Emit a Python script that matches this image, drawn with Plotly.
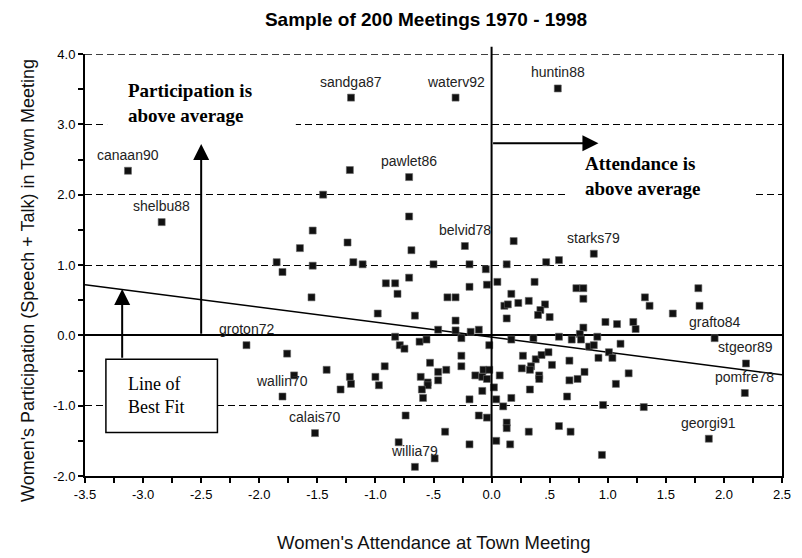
import plotly.graph_objects as go

ARIAL = "Arial, Liberation Sans, sans-serif"
TIMES = "Times New Roman, Liberation Serif, serif"

# towns that carry a name label on the chart
town_names = ["canaan90", "shelbu88", "sandga87", "waterv92", "huntin88", "pawlet86",
              "belvid78", "starks79", "groton72", "wallin70", "calais70", "willia79",
              "grafto84", "stgeor89", "pomfre78", "georgi91"]
town_attend = [-3.13, -2.84, -1.21, -0.31, 0.57, -0.71, -0.23, 0.88,
               -2.11, -1.80, -1.52, -0.66, 1.92, 2.19, 2.18, 1.87]
town_particip = [2.34, 1.61, 3.38, 3.38, 3.51, 2.25, 1.27, 1.16,
                 -0.14, -0.87, -1.39, -1.87, -0.04, -0.40, -0.82, -1.47]

# the rest of the meetings (no label)
attend = [
    -1.85, -1.80, -1.22, -1.45, -0.71, -1.54, -1.24, -1.65, -0.69, 0.19,
    -1.54, -1.19, -1.11, -0.50, -0.19, -0.05, 0.13, 0.47, 0.58, -0.71,
    -0.91, -0.83, -0.81, -1.55, -0.19, -0.04, -0.38, -0.31, -0.98, -0.66,
    -0.31, -0.46, -0.31, -0.11, -0.18, -0.83, -0.26,
    0.05, 0.37, 0.17, 0.23, 0.32, 0.11, 0.14, 0.46, 0.42, 0.40, 0.50, 0.13,
    0.73, 0.79, 0.79, 1.32, 1.36, 1.56, 1.78, 1.79, 0.79, 0.98, 1.08, 1.22, 1.24,
    0.58, 0.69, 0.76, 0.77, 0.91, 0.36, 0.17,
    -0.79, -0.75, -0.62, -0.56, -0.02, -1.76, -0.53, -0.26, -0.26, -0.46, -0.39, -1.42, -0.92, -1.70,
    -1.22, -1.21, -1.00, -0.97, -1.30, -0.61, -0.55, -0.55, -0.60, -0.59, -0.46, -0.14, -0.07, -0.02, -0.08, -0.04,
    0.07, 0.02, -0.08, -0.19, 0.04, 0.17, 0.10, 0.27, 0.38, 0.43, 0.49, 0.26, 0.34, 0.33, 0.41, 0.41, 0.52, 0.33,
    -0.74, -0.11, -0.04, -0.40, -0.19, -0.80, -0.49, 0.04, 0.16, 0.13, 0.13, 0.32,
    0.84, 0.88, 1.01, 1.11, 1.04, 0.92, 0.67, 0.67, 0.74, 0.80, 1.18, 1.07, 0.65, 0.96, 1.31, 0.58, 0.68, 0.95,
]
particip = [
    1.04, 0.90, 2.35, 2.00, 1.69, 1.49, 1.32, 1.24, 1.21, 1.34,
    0.99, 1.04, 1.01, 1.01, 1.01, 0.94, 1.01, 1.04, 1.07, 0.82,
    0.74, 0.74, 0.59, 0.54, 0.69, 0.72, 0.54, 0.54, 0.31, 0.28,
    0.21, 0.08, 0.07, 0.08, 0.05, -0.02, -0.04,
    0.76, 0.76, 0.59, 0.46, 0.49, 0.42, 0.44, 0.44, 0.36, 0.29, 0.26, 0.24,
    0.67, 0.67, 0.52, 0.54, 0.42, 0.31, 0.67, 0.42, 0.11, 0.19, 0.16, 0.19, 0.09,
    -0.02, -0.06, 0.02, -0.06, -0.02, -0.04, -0.06,
    -0.14, -0.19, -0.09, -0.06, -0.14, -0.26, -0.39, -0.29, -0.44, -0.52, -0.49, -0.49, -0.44, -0.57,
    -0.59, -0.69, -0.59, -0.71, -0.77, -0.59, -0.67, -0.71, -0.77, -0.89, -0.64, -0.57, -0.49, -0.49, -0.59, -0.62,
    -0.57, -0.74, -0.79, -0.91, -0.91, -0.89, -1.01, -0.29, -0.34, -0.28, -0.24, -0.47, -0.44, -0.49, -0.57, -0.62, -0.42, -0.77,
    -1.14, -1.14, -1.17, -1.37, -1.55, -1.52, -1.75, -1.50, -1.55, -1.24, -1.32, -1.37,
    -0.16, -0.14, -0.24, -0.12, -0.32, -0.32, -0.36, -0.64, -0.62, -0.52, -0.54, -0.69, -0.87, -0.99, -1.02, -1.29, -1.37, -1.70,
]

# line of best fit, end points at the axis limits
fit_x = [-3.5, 2.5]
fit_y = [0.72, -0.56]

x_tick_vals = [-3.5, -3.0, -2.5, -2.0, -1.5, -1.0, -0.5, 0.0, 0.5, 1.0, 1.5, 2.0, 2.5]
x_tick_text = ["-3.5", "-3.0", "-2.5", "-2.0", "-1.5", "-1.0", "-.5", "0.0", ".5", "1.0", "1.5", "2.0", "2.5"]
y_tick_vals = [-2, -1, 0, 1, 2, 3, 4]
y_tick_text = ["-2.0", "-1.0", "0.0", "1.0", "2.0", "3.0", "4.0"]

fig = go.Figure()

fig.add_trace(
    go.Scatter(
        x=fit_x,
        y=fit_y,
        mode="lines",
        line=dict(color="black", width=1.5),
        hoverinfo="skip"
    )
)

fig.add_trace(
    go.Scatter(
        x=attend + town_attend,
        y=particip + town_particip,
        mode="markers",
        marker=dict(symbol="square", size=7, color="#111111",
                    line=dict(color="#666666", width=0.6))
    )
)

# town name labels above their points
for name, xv, yv in zip(town_names, town_attend, town_particip):
    fig.add_annotation(
        x=xv, y=yv, text=name, showarrow=False, yshift=16,
        font=dict(family=ARIAL, size=14, color="#222222")
    )

# dashed top edge (the 4.0 grid line)
fig.add_shape(type="line", xref="paper", x0=0, x1=1, y0=y_tick_vals[-1], y1=y_tick_vals[-1],
              line=dict(color="black", width=1.3, dash="7px,4px"), layer="between")

# white boxes behind the two bold notes, and the best-fit box
fig.add_shape(type="rect", x0=-3.31, x1=-1.685, y0=2.92, y1=3.55,
              fillcolor="white", line=dict(width=0), layer="between")
fig.add_shape(type="rect", x0=0.64, x1=2.245, y0=1.93, y1=2.55,
              fillcolor="white", line=dict(width=0), layer="between")
fig.add_shape(type="rect", x0=-3.32, x1=-2.36, y0=-1.38, y1=-0.34,
              fillcolor="white", line=dict(color="black", width=1.5), layer="between")

# x = 0 divider, poking slightly above the frame
fig.add_shape(type="line", x0=0, x1=0, xref="x", yref="paper", y0=0, y1=1.017,
              line=dict(color="black", width=2))

fig.add_annotation(
    x=-3.15, y=3.30, text="<b>Participation is<br>above average</b>",
    showarrow=False, xanchor="left", yanchor="middle", align="left",
    font=dict(family=TIMES, size=19, color="black")
)
fig.add_annotation(
    x=0.785, y=2.26, text="<b>Attendance is<br>above average</b>",
    showarrow=False, xanchor="left", yanchor="middle", align="left",
    font=dict(family=TIMES, size=19, color="black")
)
fig.add_annotation(
    x=-3.15, y=-0.86, text="Line of<br>Best Fit",
    showarrow=False, xanchor="left", yanchor="middle", align="left",
    font=dict(family=TIMES, size=18, color="black")
)

arrow_style = dict(
    xref="x", yref="y", axref="x", ayref="y", text="", showarrow=True,
    arrowhead=2, arrowsize=1.6, arrowwidth=2, arrowcolor="black",
    standoff=0, startstandoff=0
)
fig.add_annotation(x=-2.5, y=2.72, ax=-2.5, ay=0, **arrow_style)
fig.add_annotation(x=0.92, y=2.73, ax=0, ay=2.73, **arrow_style)
fig.add_annotation(x=-3.18, y=0.66, ax=-3.18, ay=-0.34, **arrow_style)

# axis titles
fig.add_annotation(
    xref="paper", yref="paper", x=0.5, y=-0.158, text="Women's Attendance at Town Meeting",
    showarrow=False, xanchor="center", yanchor="middle",
    font=dict(family=ARIAL, size=18.5, color="#111111")
)
fig.add_annotation(
    xref="paper", yref="paper", x=-0.082, y=0.464,
    text="Women's Participation (Speech + Talk) in Town Meeting",
    showarrow=False, textangle=-90, xanchor="center", yanchor="middle",
    font=dict(family=ARIAL, size=18, color="#111111")
)

fig.update_layout(
    width=802,
    height=558,
    margin=dict(l=85, r=11, t=54, b=82),
    paper_bgcolor="white",
    plot_bgcolor="white",
    showlegend=False,
    font=dict(family=ARIAL, color="black"),
    title=dict(
        text="<b>Sample of 200 Meetings 1970 - 1998</b>",
        x=426 / 802, y=1 - 19 / 558, xanchor="center", yanchor="middle",
        font=dict(family=ARIAL, size=19, color="black")
    ),
    xaxis=dict(
        range=[-3.5, 2.5],
        tickvals=x_tick_vals,
        ticktext=x_tick_text,
        ticks="outside", ticklen=5, tickwidth=1.5, tickcolor="black",
        minor=dict(dtick=0.25, tick0=0, ticks="outside", ticklen=5,
                   tickwidth=1.5, tickcolor="black", showgrid=False),
        showline=True, linecolor="black", linewidth=2,
        showgrid=False, zeroline=False,
        ticklabeloverflow="allow",
        tickfont=dict(family=ARIAL, size=13, color="black")
    ),
    yaxis=dict(
        range=[-2, 4],
        tickvals=y_tick_vals,
        ticktext=y_tick_text,
        ticks="outside", ticklen=5, tickwidth=1.5, tickcolor="black",
        minor=dict(dtick=0.5, tick0=0, ticks="outside", ticklen=5,
                   tickwidth=1.5, tickcolor="black", showgrid=False),
        showline=True, mirror=True, linecolor="black", linewidth=2,
        showgrid=True, gridcolor="black", gridwidth=1.3, griddash="7px,4px",
        zeroline=True, zerolinecolor="black", zerolinewidth=2,
        tickfont=dict(family=ARIAL, size=13, color="black")
    )
)

# the page's default body margin would shift the chart; drop it
fig.write_html("out.html", config={"displayModeBar": False},
               post_script="document.body.style.margin = '0';")
